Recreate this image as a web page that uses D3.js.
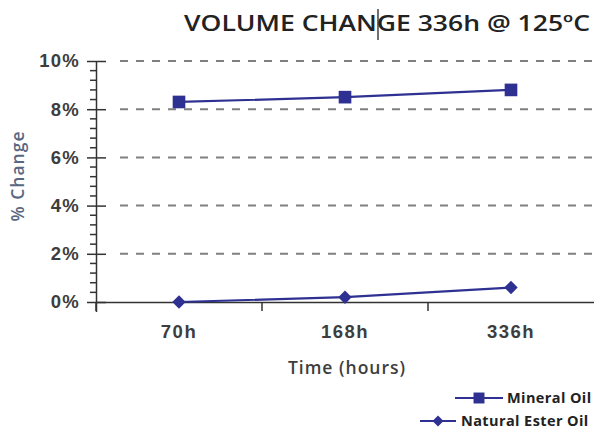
<!DOCTYPE html>
<html>
<head>
<meta charset="utf-8">
<script src="https://cdn.jsdelivr.net/npm/d3@7"></script>
<style>
  body { margin: 0; background: #fff; }
  svg { display: block; font-family: "Open Sans", "DejaVu Sans", sans-serif; }
</style>
</head>
<body>
<svg id="chart" width="597" height="434"></svg>
<script>
const categories = ["70h", "168h", "336h"];
const mineralOil = [8.3, 8.5, 8.8];
const naturalEsterOil = [0.0, 0.2, 0.6];
const yTicks = [0, 2, 4, 6, 8, 10];
const seriesNames = ["Mineral Oil", "Natural Ester Oil"];

const svg = d3.select("#chart");
const lineColor = "#2e3192";
const textColor = "#3d3d3d";

const x = d3.scaleBand().domain(categories).range([96, 594]);
const y = d3.scaleLinear().domain([0, 10]).range([302, 61]);

// dashed gridlines
svg.append("g").selectAll("line")
  .data(yTicks.filter(d => d > 0))
  .join("line")
  .attr("x1", 120).attr("x2", 592)
  .attr("y1", d => y(d)).attr("y2", d => y(d))
  .attr("stroke", "#808080").attr("stroke-width", 2)
  .attr("stroke-dasharray", "8,8");

// minor ticks on the value axis (every 0.4%)
const minor = d3.range(1, 26).map(i => i * 0.4).filter(v => Math.abs(v / 2 - Math.round(v / 2)) > 1e-6);
svg.append("g").selectAll("line")
  .data(minor)
  .join("line")
  .attr("x1", 90).attr("x2", 97)
  .attr("y1", d => y(d)).attr("y2", d => y(d))
  .attr("stroke", "#333").attr("stroke-width", 1.5);

// value axis
const yAxis = svg.append("g")
  .attr("transform", "translate(96,0)")
  .call(d3.axisLeft(y).tickValues(yTicks).tickSize(9).tickPadding(7)
    .tickFormat(d => d + "%"));
yAxis.select(".domain").attr("stroke", "#333").attr("stroke-width", 1.5).attr("d", "M0.5,61V312");
yAxis.selectAll(".tick line").attr("stroke", "#333").attr("stroke-width", 1.5).attr("x1", -9).attr("x2", 10);
yAxis.selectAll(".tick text")
  .attr("font-size", 18.5).attr("font-weight", 600).attr("fill", textColor)
  .attr("letter-spacing", 1.2);

// category axis
const xAxis = svg.append("g")
  .attr("transform", "translate(0,302)")
  .call(d3.axisBottom(x).tickSize(0).tickPadding(23));
xAxis.select(".domain").attr("stroke", "#333").attr("stroke-width", 1.5).attr("d", "M96,0.5H594");
xAxis.selectAll(".tick text")
  .attr("font-size", 18.5).attr("font-weight", 600).attr("fill", textColor)
  .attr("letter-spacing", 1.5);
// category boundary ticks
svg.append("g").selectAll("line")
  .data(categories)
  .join("line")
  .attr("x1", d => x(d)).attr("x2", d => x(d))
  .attr("y1", 302).attr("y2", 311)
  .attr("stroke", "#333").attr("stroke-width", 1.5);

// axis titles
svg.append("text")
  .attr("x", 347).attr("y", 374)
  .attr("text-anchor", "middle")
  .attr("font-size", 17.5).attr("font-weight", 600).attr("fill", textColor)
  .attr("letter-spacing", 1)
  .text("Time (hours)");
svg.append("text")
  .attr("transform", "translate(24,176) rotate(-90)")
  .attr("text-anchor", "middle")
  .attr("font-size", 17.5).attr("font-weight", 600).attr("fill", "#5a6783")
  .attr("letter-spacing", 1)
  .text("% Change");

// chart title
svg.append("text")
  .attr("x", 590).attr("y", 31)
  .attr("text-anchor", "end")
  .attr("font-size", 22).attr("font-weight", 600).attr("fill", "#222")
  .attr("textLength", 406).attr("lengthAdjust", "spacingAndGlyphs")
  .text("VOLUME CHANGE 336h @ 125ºC");
svg.append("line")
  .attr("x1", 378).attr("x2", 378).attr("y1", 9).attr("y2", 40)
  .attr("stroke", "#111").attr("stroke-width", 1.2);

// series lines
const cx = (i) => x(categories[i]) + x.bandwidth() / 2;
const line = d3.line()
  .x((d, i) => cx(i))
  .y(d => y(d));

svg.append("path").datum(mineralOil)
  .attr("d", line).attr("fill", "none")
  .attr("stroke", lineColor).attr("stroke-width", 2.2);
svg.append("path").datum(naturalEsterOil)
  .attr("d", line).attr("fill", "none")
  .attr("stroke", lineColor).attr("stroke-width", 2.2);

const square = (s) => d3.symbol().type(d3.symbolSquare).size(s)();

svg.append("g").selectAll("path")
  .data(mineralOil)
  .join("path")
  .attr("d", square(160))
  .attr("transform", (d, i) => `translate(${cx(i)},${y(d)})`)
  .attr("fill", lineColor);
svg.append("g").selectAll("path")
  .data(naturalEsterOil)
  .join("path")
  .attr("d", square(90))
  .attr("transform", (d, i) => `translate(${cx(i)},${y(d)}) rotate(45)`)
  .attr("fill", lineColor);

// legend
const legend = [
  { name: seriesNames[0], x1: 455, x2: 503, ty: 398, d: square(120), rot: 0, tx: 507 },
  { name: seriesNames[1], x1: 420, x2: 456, ty: 421, d: square(60), rot: 45, tx: 461 }
];
const lg = svg.append("g").selectAll("g").data(legend).join("g");
lg.append("line")
  .attr("x1", d => d.x1).attr("x2", d => d.x2)
  .attr("y1", d => d.ty).attr("y2", d => d.ty)
  .attr("stroke", lineColor).attr("stroke-width", 2.2);
lg.append("path")
  .attr("d", d => d.d)
  .attr("transform", d => `translate(${(d.x1 + d.x2) / 2},${d.ty}) rotate(${d.rot})`)
  .attr("fill", lineColor);
lg.append("text")
  .attr("x", d => d.tx).attr("y", d => d.ty + 5)
  .attr("font-size", 14.5).attr("font-weight", 700).attr("fill", "#222")
  .attr("letter-spacing", 0.4)
  .text(d => d.name);
</script>
</body>
</html>
